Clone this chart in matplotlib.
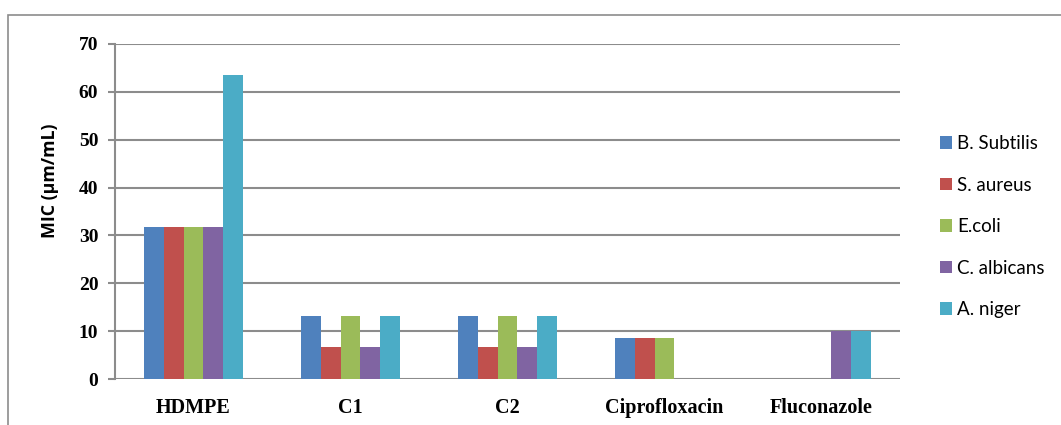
import matplotlib
matplotlib.use("Agg")
import matplotlib.pyplot as plt
import numpy as np
from matplotlib.patches import Rectangle

# MIC values per compound and organism
compounds = ["HDMPE", "C1", "C2", "Ciprofloxacin", "Fluconazole"]
organisms = ["B. Subtilis", "S. aureus", "E.coli", "C. albicans", "A. niger"]
b_subtilis = [31.75, 13.2, 13.2, 8.6, 0]
s_aureus = [31.75, 6.6, 6.6, 8.6, 0]
e_coli = [31.75, 13.2, 13.2, 8.6, 0]
c_albicans = [31.75, 6.6, 6.6, 0, 10]
a_niger = [63.6, 13.2, 13.2, 0, 10]
series = [b_subtilis, s_aureus, e_coli, c_albicans, a_niger]
colors = ["#4F81BD", "#C0504D", "#9BBB59", "#8064A2", "#4BACC6"]

W, H = 1061, 425
fig = plt.figure(figsize=(W / 100, H / 100), dpi=100)
fig.patch.set_facecolor("white")

# chart area border
fig.patches.append(Rectangle((8 / W, -0.1), 1.2, 1 - 15 / H + 0.1,
                             transform=fig.transFigure, fill=False,
                             edgecolor="#8c8c8c", linewidth=1.2))

ax = fig.add_axes([115 / W, 1 - 379 / H, (900 - 115) / W, (379 - 44) / H])

x = np.arange(len(compounds))
bw = 0.125
for i, (vals, col, name) in enumerate(zip(series, colors, organisms)):
    ax.bar(x + (i - 2) * bw, vals, width=bw, color=col, label=name,
           edgecolor="none", zorder=3)

ax.set_xlim(-0.5, len(compounds) - 0.5)
ax.set_ylim(0, 70)
ax.set_yticks(range(0, 71, 10))
ax.yaxis.grid(True, color="#8c8c8c", linewidth=1.5, zorder=0)
ax.set_axisbelow(True)
for s in ["top", "right", "bottom"]:
    ax.spines[s].set_visible(False)
ax.spines["left"].set_color("#8c8c8c")
ax.spines["left"].set_linewidth(1.5)
ax.tick_params(axis="y", length=5, width=1.5, color="#8c8c8c", pad=7)
ax.tick_params(axis="x", length=0, pad=14)
ax.set_xticks(x)
ax.set_xticklabels(compounds)
for lab in ax.get_yticklabels():
    lab.set_fontfamily("Liberation Serif")
    lab.set_fontweight("bold")
    lab.set_fontsize(14)
for lab in ax.get_xticklabels():
    lab.set_fontfamily("Liberation Serif")
    lab.set_fontweight("bold")
    lab.set_fontsize(14.5)

fig.text(50 / W, 1 - 181 / H, "MIC (\u00b5m/mL)", rotation=90, ha="center",
         va="center", fontfamily="Open Sans", fontweight="bold", fontsize=12.8)

leg = fig.legend(loc="upper left", bbox_to_anchor=(940 / W, 1 - 135 / H),
                 frameon=False, prop={"family": "Lato", "size": 13.5},
                 handlelength=0.64, handleheight=0.64, handletextpad=0.27,
                 labelspacing=1.31, borderaxespad=0, borderpad=0)

fig.savefig("out.png", dpi=100, facecolor="white")
